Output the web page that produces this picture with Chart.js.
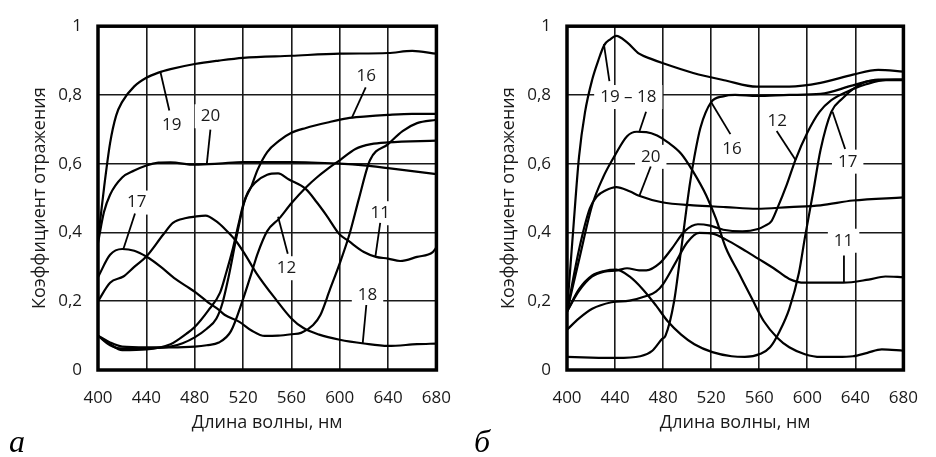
<!DOCTYPE html>
<html>
<head>
<meta charset="utf-8">
<script src="https://cdn.jsdelivr.net/npm/chart.js@4.4.1/dist/chart.umd.min.js"></script>
<style>
  body { margin: 0; background: #fff; width: 936px; height: 457px; overflow: hidden; position: relative; }
  canvas { position: absolute; top: 0; }
  #chartA { left: 0; }
  #chartB { left: 469px; }
  .letter { position: absolute; font-family: "Liberation Serif", serif; font-style: italic; font-size: 32px; line-height: 32px; color: #000; }
</style>
</head>
<body>
<canvas id="chartA" width="469" height="457"></canvas>
<canvas id="chartB" width="467" height="457"></canvas>
<span class="letter" style="left:9px;top:425px">а</span>
<span class="letter" style="left:474px;top:425px">б</span>
<script>
//axis ticks
const xTicks = [400, 440, 480, 520, 560, 600, 640, 680];
const yTicks = [0, 0.2, 0.4, 0.6, 0.8, 1];

//panel а: wavelength (nm) / reflectance
const a19x = [400, 405, 410, 415, 420, 430, 440, 450, 460, 480, 500, 520, 560, 600, 640, 660, 680];
const a19y = [0.38, 0.53, 0.66, 0.74, 0.78, 0.825, 0.85, 0.865, 0.875, 0.89, 0.9, 0.908, 0.914, 0.92, 0.922, 0.928, 0.92];
const a20x = [400, 405, 410, 420, 430, 440, 450, 460, 480, 500, 520, 560, 600, 620, 640, 680];
const a20y = [0.37, 0.46, 0.51, 0.56, 0.58, 0.595, 0.603, 0.604, 0.597, 0.6, 0.605, 0.605, 0.6, 0.595, 0.587, 0.57];
const a16x = [400, 410, 420, 440, 460, 470, 480, 490, 498, 503, 508, 515, 521, 527, 532, 540, 550, 560, 572, 590, 606, 620, 640, 660, 680];
const a16y = [0.1, 0.072, 0.062, 0.063, 0.068, 0.078, 0.095, 0.12, 0.15, 0.195, 0.27, 0.394, 0.488, 0.535, 0.582, 0.634, 0.667, 0.69, 0.704, 0.72, 0.732, 0.737, 0.742, 0.745, 0.745];
const a11x = [400, 410, 420, 440, 460, 467, 473, 480, 491, 501, 506, 511, 516, 520, 524, 530, 540, 549, 558, 572, 581, 589, 600, 607, 620, 630, 640, 650, 664, 677, 680];
const a11y = [0.1, 0.075, 0.058, 0.06, 0.075, 0.09, 0.105, 0.125, 0.172, 0.225, 0.282, 0.345, 0.42, 0.479, 0.517, 0.545, 0.568, 0.572, 0.554, 0.526, 0.488, 0.45, 0.394, 0.376, 0.343, 0.329, 0.324, 0.317, 0.329, 0.343, 0.357];
const a12x = [400, 410, 420, 440, 460, 480, 490, 500, 510, 520, 527, 532, 540, 550, 560, 572, 581, 590, 600, 613, 626, 640, 680];
const a12y = [0.1, 0.08, 0.068, 0.066, 0.066, 0.068, 0.072, 0.08, 0.113, 0.206, 0.282, 0.338, 0.404, 0.441, 0.485, 0.531, 0.56, 0.585, 0.61, 0.643, 0.657, 0.662, 0.667];
const a17x = [400, 410, 420, 430, 440, 452, 464, 473, 481, 491, 499, 505, 517, 527, 538, 549, 560, 568, 578, 584, 592, 600, 608, 616, 625, 640, 652, 664, 680];
const a17y = [0.27, 0.335, 0.352, 0.347, 0.33, 0.3, 0.265, 0.244, 0.225, 0.197, 0.178, 0.16, 0.14, 0.115, 0.099, 0.1, 0.104, 0.108, 0.131, 0.16, 0.235, 0.31, 0.394, 0.5, 0.61, 0.657, 0.695, 0.718, 0.728];
const a18x = [400, 410, 421, 430, 440, 454, 462, 473, 480, 489, 498, 505, 514, 521, 531, 547, 560, 570, 583, 600, 620, 640, 664, 680];
const a18y = [0.2, 0.254, 0.272, 0.3, 0.33, 0.394, 0.428, 0.442, 0.446, 0.449, 0.432, 0.41, 0.376, 0.34, 0.282, 0.206, 0.15, 0.122, 0.103, 0.088, 0.077, 0.07, 0.075, 0.077];

//panel б
const b19x = [400, 405, 410, 415, 421, 426, 431, 436, 441, 450, 460, 470, 480, 505, 532, 558, 585, 611, 638, 659, 680];
const b19y = [0.17, 0.4, 0.62, 0.75, 0.845, 0.9, 0.945, 0.962, 0.972, 0.953, 0.92, 0.905, 0.892, 0.864, 0.842, 0.824, 0.824, 0.835, 0.859, 0.873, 0.868];
const b18x = [400, 410, 421, 430, 440, 450, 458, 466, 475, 484, 495, 505, 516, 524, 532, 543, 554, 564, 575, 585, 598, 611, 625, 638, 650, 662, 680];
const b18y = [0.17, 0.32, 0.48, 0.56, 0.625, 0.68, 0.693, 0.692, 0.682, 0.662, 0.629, 0.577, 0.507, 0.44, 0.357, 0.282, 0.207, 0.141, 0.094, 0.066, 0.046, 0.038, 0.038, 0.04, 0.05, 0.06, 0.056];
const b20x = [400, 410, 419, 425, 432, 441, 452, 460, 479, 505, 532, 558, 585, 611, 638, 680];
const b20y = [0.17, 0.35, 0.47, 0.505, 0.522, 0.532, 0.52, 0.507, 0.488, 0.479, 0.474, 0.469, 0.474, 0.479, 0.493, 0.502];
const b16x = [400, 420, 441, 461, 471, 479, 482, 489, 495, 502, 506, 511, 520, 530, 540, 558, 585, 611, 638, 659, 680];
const b16y = [0.038, 0.036, 0.035, 0.04, 0.056, 0.09, 0.1, 0.197, 0.35, 0.535, 0.62, 0.704, 0.779, 0.796, 0.8, 0.797, 0.8, 0.803, 0.828, 0.845, 0.845];
const b12x = [400, 410, 421, 431, 442, 450, 460, 466, 477, 487, 498, 509, 519, 530, 546, 559, 565, 570, 575, 583, 590, 600, 610, 620, 638, 649, 665, 680];
const b12y = [0.17, 0.23, 0.272, 0.286, 0.29, 0.296, 0.29, 0.29, 0.31, 0.352, 0.404, 0.424, 0.42, 0.408, 0.403, 0.41, 0.42, 0.432, 0.47, 0.54, 0.61, 0.69, 0.75, 0.785, 0.817, 0.831, 0.843, 0.843];
const b17x = [400, 410, 421, 431, 441, 452, 463, 474, 484, 495, 506, 521, 537, 548, 561, 569, 577, 585, 593, 598, 605, 611, 620, 629, 640, 651, 680];
const b17y = [0.17, 0.235, 0.275, 0.288, 0.292, 0.272, 0.235, 0.188, 0.141, 0.103, 0.075, 0.052, 0.04, 0.038, 0.047, 0.066, 0.113, 0.178, 0.282, 0.385, 0.52, 0.64, 0.751, 0.789, 0.822, 0.84, 0.845];
const b11x = [400, 410, 421, 437, 452, 466, 474, 480, 490, 500, 510, 522, 532, 546, 559, 572, 585, 598, 630, 651, 665, 680];
const b11y = [0.117, 0.15, 0.178, 0.197, 0.202, 0.215, 0.228, 0.25, 0.31, 0.371, 0.399, 0.396, 0.38, 0.352, 0.324, 0.296, 0.265, 0.254, 0.254, 0.263, 0.272, 0.27];

//curve labels: text position and leader line, in data units
const labelsA = [
  { text: '19', at: [461, 0.713], from: [459, 0.755], to: [451.7, 0.866] },
  { text: '20', at: [493, 0.738], from: [493, 0.699], to: [490, 0.599] },
  { text: '16', at: [622, 0.854], from: [621.5, 0.822], to: [610, 0.733] },
  { text: '17', at: [432, 0.487], from: [430.6, 0.455], to: [421, 0.352] },
  { text: '11', at: [633.5, 0.456], from: [633.5, 0.428], to: [629.5, 0.33] },
  { text: '12', at: [556, 0.296], from: [557, 0.338], to: [549, 0.446] },
  { text: '18', at: [623, 0.217], from: [622, 0.189], to: [619, 0.077] }
];
const labelsB = [
  { text: '19 – 18', at: [451, 0.794] },
  { from: [435.3, 0.84], to: [430.7, 0.948] },
  { from: [465.8, 0.751], to: [460.4, 0.695] },
  { text: '20', at: [469.7, 0.62], from: [469.7, 0.592], to: [460.4, 0.508] },
  { text: '16', at: [537.3, 0.643], from: [536, 0.686], to: [520, 0.779] },
  { text: '12', at: [575, 0.723], from: [574.5, 0.695], to: [590.4, 0.61] },
  { text: '17', at: [633.6, 0.606], from: [631.5, 0.643], to: [621, 0.751] },
  { text: '11', at: [630.2, 0.376], from: [630.5, 0.333], to: [630.5, 0.256] }
];

const FONT = '"Open Sans", sans-serif';
const LABEL_FONT = '17px ' + FONT;

const toPoints = (xs, ys) => xs.map((x, i) => ({ x: x, y: ys[i] }));

const makeSet = (xs, ys) => ({
  data: toPoints(xs, ys),
  borderColor: '#000',
  borderWidth: 2.2,
  pointRadius: 0,
  fill: false,
  cubicInterpolationMode: 'monotone'
});

//white boxes behind labels, leader lines, text and the plot frame
const curveLabels = {
  id: 'curveLabels',
  beforeDatasetsDraw(chart, args, opts) {
    const ctx = chart.ctx, sx = chart.scales.x, sy = chart.scales.y;
    ctx.save();
    ctx.font = LABEL_FONT;
    opts.items.forEach(l => {
      if (!l.text) return;
      const x = sx.getPixelForValue(l.at[0]);
      const y = sy.getPixelForValue(l.at[1]);
      const w = ctx.measureText(l.text).width;
      ctx.fillStyle = '#fff';
      ctx.fillRect(x - w / 2 - 6, y - 12, w + 12, 24);
    });
    ctx.restore();
  },
  afterDatasetsDraw(chart, args, opts) {
    const ctx = chart.ctx, sx = chart.scales.x, sy = chart.scales.y;
    const area = chart.chartArea;
    ctx.save();
    ctx.strokeStyle = '#000';
    ctx.lineWidth = 1.8;
    opts.items.forEach(l => {
      if (!l.from) return;
      ctx.beginPath();
      ctx.moveTo(sx.getPixelForValue(l.from[0]), sy.getPixelForValue(l.from[1]));
      ctx.lineTo(sx.getPixelForValue(l.to[0]), sy.getPixelForValue(l.to[1]));
      ctx.stroke();
    });
    ctx.font = LABEL_FONT;
    ctx.fillStyle = '#1a1a1a';
    ctx.textAlign = 'center';
    ctx.textBaseline = 'middle';
    opts.items.forEach(l => {
      if (!l.text) return;
      ctx.fillText(l.text, sx.getPixelForValue(l.at[0]), sy.getPixelForValue(l.at[1]));
    });
    ctx.lineWidth = 3.5;
    ctx.strokeRect(area.left, area.top, area.right - area.left, area.bottom - area.top);
    ctx.restore();
  }
};

const drawChart = (id, sets, labels) => {
  const ctx = document.getElementById(id);
  return new Chart(ctx, {
    type: 'line',
    data: { datasets: sets.map(s => makeSet(s[0], s[1])) },
    options: {
      responsive: false,
      animation: false,
      devicePixelRatio: 1,
      layout: { padding: { left: 0, right: 17, top: 15, bottom: 0 } },
      plugins: {
        legend: { display: false },
        tooltip: { enabled: false },
        curveLabels: { items: labels }
      },
      scales: {
        x: {
          type: 'linear',
          min: xTicks[0],
          max: xTicks[xTicks.length - 1],
          afterFit: (s) => { s.height = 87; },
          afterBuildTicks: (s) => { s.ticks = xTicks.map(v => ({ value: v })); },
          grid: { color: '#1a1a1a', lineWidth: 1.6, drawTicks: false },
          border: { display: false },
          ticks: { padding: 18, color: '#1a1a1a', font: { family: FONT, size: 17 } },
          title: {
            display: true,
            text: 'Длина волны, нм',
            color: '#1a1a1a',
            font: { family: FONT, size: 18 },
            padding: { top: 0, bottom: 23 }
          }
        },
        y: {
          min: yTicks[0],
          max: yTicks[yTicks.length - 1],
          afterFit: (s) => { s.width = 98; },
          afterBuildTicks: (s) => { s.ticks = yTicks.map(v => ({ value: v })); },
          grid: { color: '#1a1a1a', lineWidth: 1.6, drawTicks: false },
          border: { display: false },
          ticks: {
            padding: 16,
            color: '#1a1a1a',
            font: { family: FONT, size: 17 },
            callback: (v) => String(Math.round(v * 10) / 10).replace('.', ',')
          },
          title: {
            display: true,
            text: 'Коэффициент отражения',
            color: '#1a1a1a',
            font: { family: FONT, size: 18 },
            padding: { top: 29, bottom: 0 }
          }
        }
      }
    },
    plugins: [curveLabels]
  });
};

window.addEventListener('load', () => {
  drawChart('chartA', [
    [a19x, a19y], [a20x, a20y], [a16x, a16y], [a11x, a11y],
    [a12x, a12y], [a17x, a17y], [a18x, a18y]
  ], labelsA);
  drawChart('chartB', [
    [b19x, b19y], [b18x, b18y], [b20x, b20y], [b16x, b16y],
    [b12x, b12y], [b17x, b17y], [b11x, b11y]
  ], labelsB);
});
</script>
</body>
</html>
